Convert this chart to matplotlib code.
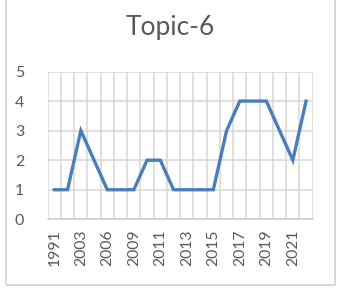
import matplotlib
matplotlib.use("Agg")
import matplotlib.pyplot as plt
import matplotlib.patches as patches
import numpy as np

years = ["1991", "2000", "2003", "2005", "2006", "2008", "2009", "2010", "2011", "2012",
         "2013", "2014", "2015", "2016", "2017", "2018", "2019", "2020", "2021", "2022"]
values = [1, 1, 3, 2, 1, 1, 1, 2, 2, 1, 1, 1, 1, 3, 4, 4, 4, 3, 2, 4]
yticks = [0, 1, 2, 3, 4, 5]

W, H = 343, 292
fig = plt.figure(figsize=(W / 100, H / 100), dpi=100)
fig.patch.set_facecolor("white")

font = ["Lato", "DejaVu Sans"]
txt = "#595959"
grid = "#D9D9D9"

# outer chart border
fig.add_artist(patches.Rectangle((5.5 / W, 1 - 285 / H), (335 - 5.5) / W, 285 / H + 0.05,
                                 transform=fig.transFigure, fill=False,
                                 edgecolor="#D0D0D0", linewidth=1.2))

left, right, top, bottom = 47.7, 312.7, 71.5, 219.3
ax = fig.add_axes([left / W, 1 - bottom / H, (right - left) / W, (bottom - top) / H])

x = np.arange(len(years))
ax.plot(x, values, color="#4A7EBB", linewidth=2.4, solid_joinstyle="miter", zorder=3)

ax.set_xlim(-0.5, len(years) - 0.5)
ax.set_ylim(0, 5)
ax.set_yticks(yticks)
ax.set_yticklabels([str(v) for v in yticks], fontsize=11.5, color=txt, family=font)
ax.set_xticks(x[::2])
ax.set_xticklabels(years[::2], rotation=90, fontsize=11.3, color=txt, family=font)
ax.set_xticks(np.arange(-0.5, len(years), 1), minor=True)
ax.tick_params(axis="both", which="both", length=0)
ax.tick_params(axis="y", pad=17)
ax.tick_params(axis="x", pad=7)
ax.grid(True, which="minor", axis="x", color=grid, linewidth=1.2)
ax.grid(True, which="major", axis="y", color=grid, linewidth=1.2)
ax.grid(False, which="major", axis="x")
for s in ["left", "right", "top"]:
    ax.spines[s].set_visible(False)
ax.spines["bottom"].set_color("#D0D0D0")
ax.spines["bottom"].set_linewidth(1.2)
ax.set_axisbelow(True)

fig.text(170 / W, 1 - 28 / H, "Topic-6", ha="center", va="center",
         fontsize=19, color=txt, family=font)

fig.savefig("out.png", dpi=100, facecolor="white")
